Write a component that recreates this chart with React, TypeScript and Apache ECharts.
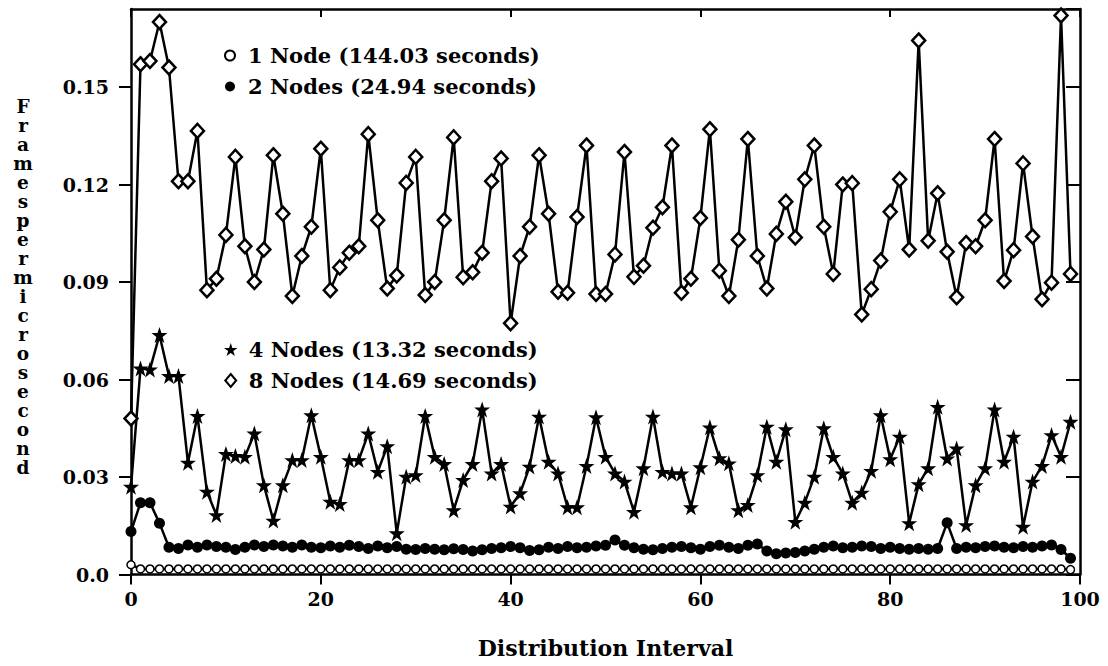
import React, { useEffect, useRef } from "react";
import * as echarts from "echarts";

const FONT = "DejaVu Serif";

const seriesNames = [
  "1 Node (144.03 seconds)",
  "2 Nodes (24.94 seconds)",
  "4 Nodes (13.32 seconds)",
  "8 Nodes (14.69 seconds)",
];

const xTicks = [0, 20, 40, 60, 80, 100];
const yTicks = [0, 0.03, 0.06, 0.09, 0.12, 0.15];
const yAxisTitle = "Framespermicrosecond";
const xAxisTitle = "Distribution Interval";

const node1 = [
  0.0030, 0.0017, 0.0017, 0.0017, 0.0017, 0.0017, 0.0017, 0.0017, 0.0017, 0.0017,
  0.0017, 0.0017, 0.0017, 0.0017, 0.0017, 0.0017, 0.0017, 0.0017, 0.0017, 0.0017,
  0.0017, 0.0017, 0.0017, 0.0017, 0.0017, 0.0017, 0.0017, 0.0017, 0.0017, 0.0017,
  0.0017, 0.0017, 0.0017, 0.0017, 0.0017, 0.0017, 0.0017, 0.0017, 0.0017, 0.0017,
  0.0017, 0.0017, 0.0017, 0.0017, 0.0017, 0.0017, 0.0017, 0.0017, 0.0017, 0.0017,
  0.0017, 0.0017, 0.0017, 0.0017, 0.0017, 0.0017, 0.0017, 0.0017, 0.0017, 0.0017,
  0.0017, 0.0017, 0.0017, 0.0017, 0.0017, 0.0017, 0.0017, 0.0017, 0.0017, 0.0017,
  0.0017, 0.0017, 0.0017, 0.0017, 0.0017, 0.0017, 0.0017, 0.0017, 0.0017, 0.0017,
  0.0017, 0.0017, 0.0017, 0.0017, 0.0017, 0.0017, 0.0017, 0.0017, 0.0017, 0.0017,
  0.0017, 0.0017, 0.0017, 0.0017, 0.0017, 0.0017, 0.0017, 0.0017, 0.0017, 0.0015,
];

const node2 = [
  0.0132, 0.0221, 0.0221, 0.0158, 0.0084, 0.0080, 0.0091, 0.0084, 0.0091, 0.0086,
  0.0084, 0.0077, 0.0084, 0.0091, 0.0086, 0.0091, 0.0088, 0.0084, 0.0091, 0.0084,
  0.0082, 0.0088, 0.0084, 0.0090, 0.0086, 0.0080, 0.0088, 0.0082, 0.0086, 0.0078,
  0.0077, 0.0080, 0.0078, 0.0076, 0.0079, 0.0077, 0.0072, 0.0076, 0.0080, 0.0082,
  0.0086, 0.0082, 0.0074, 0.0076, 0.0084, 0.0080, 0.0086, 0.0082, 0.0084, 0.0088,
  0.0090, 0.0106, 0.0090, 0.0082, 0.0078, 0.0076, 0.0080, 0.0084, 0.0086, 0.0082,
  0.0078, 0.0086, 0.0090, 0.0084, 0.0080, 0.0090, 0.0094, 0.0072, 0.0064, 0.0066,
  0.0068, 0.0072, 0.0078, 0.0084, 0.0088, 0.0082, 0.0084, 0.0088, 0.0086, 0.0080,
  0.0084, 0.0080, 0.0078, 0.0080, 0.0078, 0.0080, 0.0159, 0.0080, 0.0084, 0.0082,
  0.0086, 0.0088, 0.0084, 0.0082, 0.0086, 0.0084, 0.0088, 0.0091, 0.0077, 0.0050,
];

const node4 = [
  0.0270, 0.0634, 0.0631, 0.0737, 0.0611, 0.0611, 0.0344, 0.0488, 0.0255, 0.0183,
  0.0371, 0.0365, 0.0362, 0.0434, 0.0275, 0.0166, 0.0275, 0.0352, 0.0352, 0.0490,
  0.0362, 0.0224, 0.0217, 0.0352, 0.0352, 0.0434, 0.0316, 0.0395, 0.0127, 0.0301,
  0.0306, 0.0488, 0.0362, 0.0340, 0.0198, 0.0291, 0.0340, 0.0508, 0.0311, 0.0340,
  0.0209, 0.0250, 0.0332, 0.0486, 0.0347, 0.0311, 0.0207, 0.0207, 0.0334, 0.0484,
  0.0362, 0.0311, 0.0286, 0.0193, 0.0327, 0.0486, 0.0316, 0.0311, 0.0311, 0.0207,
  0.0330, 0.0453, 0.0358, 0.0342, 0.0198, 0.0214, 0.0306, 0.0455, 0.0347, 0.0447,
  0.0162, 0.0221, 0.0301, 0.0450, 0.0362, 0.0311, 0.0221, 0.0252, 0.0319, 0.0490,
  0.0355, 0.0424, 0.0158, 0.0278, 0.0327, 0.0516, 0.0357, 0.0388, 0.0152, 0.0275,
  0.0327, 0.0508, 0.0347, 0.0424, 0.0147, 0.0286, 0.0334, 0.0429, 0.0362, 0.0470,
];

const node8 = [
  0.0480, 0.1570, 0.1580, 0.1700, 0.1560, 0.1210, 0.1210, 0.1365, 0.0875, 0.0910,
  0.1045, 0.1285, 0.1010, 0.0900, 0.1000, 0.1290, 0.1110, 0.0857, 0.0980, 0.1070,
  0.1310, 0.0875, 0.0945, 0.0990, 0.1010, 0.1355, 0.1090, 0.0880, 0.0920, 0.1205,
  0.1285, 0.0860, 0.0900, 0.1090, 0.1345, 0.0915, 0.0930, 0.0990, 0.1210, 0.1280,
  0.0773, 0.0980, 0.1070, 0.1290, 0.1110, 0.0870, 0.0867, 0.1100, 0.1320, 0.0863,
  0.0863, 0.0985, 0.1300, 0.0916, 0.0950, 0.1067, 0.1130, 0.1320, 0.0867, 0.0910,
  0.1097, 0.1370, 0.0935, 0.0857, 0.1030, 0.1340, 0.0980, 0.0880, 0.1048, 0.1147,
  0.1037, 0.1216, 0.1320, 0.1070, 0.0925, 0.1200, 0.1204, 0.0800, 0.0878, 0.0966,
  0.1116, 0.1216, 0.1000, 0.1643, 0.1027, 0.1173, 0.0993, 0.0853, 0.1020, 0.1010,
  0.1090, 0.1340, 0.0903, 0.0998, 0.1265, 0.1040, 0.0847, 0.0898, 0.1720, 0.0925,
];

const STAR =
  "path://M50,0 L61.8,35.2 L97.6,35.2 L68.5,57 L79.4,92 L50,70.5 L20.6,92 L31.5,57 L2.4,35.2 L38.2,35.2 Z";
const DIAMOND = "path://M50,0 L92,50 L50,100 L8,50 Z";

const toPoints = (vals: number[]) => vals.map((v, i) => [i, v]);

export default function App() {
  const ref = useRef<HTMLDivElement>(null);
  useEffect(() => {
    document.body.style.margin = "0";
    const chart = echarts.init(ref.current!, null, { renderer: "svg" });
    const labelStyle = {
      fontFamily: FONT,
      fontWeight: "bold" as const,
      color: "#000",
    };
    const axisLine = { show: true, onZero: false, lineStyle: { color: "#000", width: 2.5 } };
    const lineStyle = { color: "#000", width: 2.5 };
    const legendText = { ...labelStyle, fontSize: 21 };
    const option: any = {
      animation: false,
      backgroundColor: "#fff",
      grid: { left: 131, right: 28, top: 9, bottom: 91.5 },
      xAxis: [
        {
          type: "value",
          min: xTicks[0],
          max: xTicks[xTicks.length - 1],
          interval: xTicks[1] - xTicks[0],
          position: "bottom",
          axisLine,
          axisTick: { inside: false, length: 10, lineStyle: { color: "#000", width: 2 } },
          axisLabel: { ...labelStyle, fontSize: 19, margin: 15 },
          splitLine: { show: false },
          name: xAxisTitle,
          nameLocation: "middle",
          nameGap: 62,
          nameTextStyle: { ...labelStyle, fontSize: 22 },
        },
        {
          type: "value",
          min: xTicks[0],
          max: xTicks[xTicks.length - 1],
          interval: xTicks[1] - xTicks[0],
          position: "top",
          axisLine,
          axisTick: { inside: true, length: 8, lineStyle: { color: "#000", width: 2 } },
          axisLabel: { show: false },
          splitLine: { show: false },
        },
      ],
      yAxis: [
        {
          type: "value",
          min: 0,
          max: 0.174,
          interval: yTicks[1] - yTicks[0],
          position: "left",
          axisLine,
          axisTick: { inside: false, length: 12, lineStyle: { color: "#000", width: 2 } },
          axisLabel: {
            ...labelStyle,
            fontSize: 19,
            margin: 22,
            showMaxLabel: false,
            formatter: (v: number) => {
              const t = yTicks.find((y) => Math.abs(y - v) < 1e-6);
              if (t === undefined) return "";
              return t === 0 ? "0.0" : t.toFixed(2);
            },
          },
          splitLine: { show: false },
        },
        {
          type: "value",
          min: 0,
          max: 0.174,
          interval: yTicks[1] - yTicks[0],
          position: "right",
          axisLine,
          axisTick: { inside: true, length: 14, lineStyle: { color: "#000", width: 2 } },
          axisLabel: { show: false },
          splitLine: { show: false },
        },
      ],
      legend: [
        {
          orient: "vertical",
          left: 219,
          top: 40,
          itemGap: 10,
          itemWidth: 26,
          itemHeight: 10,
          symbolKeepAspect: true,
          selectedMode: false,
          textStyle: legendText,
          data: [
            { name: seriesNames[0], icon: "circle" },
            { name: seriesNames[1], icon: "circle" },
          ],
        },
        {
          orient: "vertical",
          left: 219,
          top: 334,
          itemGap: 10,
          itemWidth: 26,
          itemHeight: 13,
          symbolKeepAspect: true,
          selectedMode: false,
          textStyle: legendText,
          data: [
            { name: seriesNames[2], icon: STAR },
            { name: seriesNames[3], icon: DIAMOND },
          ],
        },
      ],
      graphic: [
        {
          type: "text",
          x: 23,
          y: 97,
          style: {
            text: yAxisTitle.split("").join("\n"),
            align: "center",
            verticalAlign: "top",
            fontFamily: FONT,
            fontWeight: "bold",
            fontSize: 18.5,
            lineHeight: 19,
            fill: "#000",
          },
        },
      ],
      series: [
        {
          name: seriesNames[3],
          type: "line",
          data: toPoints(node8),
          symbol: "diamond",
          symbolSize: [13, 14],
          lineStyle,
          itemStyle: { color: "#fff", borderColor: "#000", borderWidth: 2.5 },
          z: 3,
        },
        {
          name: seriesNames[2],
          type: "line",
          data: toPoints(node4),
          symbol: STAR,
          symbolSize: 16,
          lineStyle,
          itemStyle: { color: "#000", borderColor: "#000", borderWidth: 0 },
          z: 3,
        },
        {
          name: seriesNames[1],
          type: "line",
          data: toPoints(node2),
          symbol: "circle",
          symbolSize: 11,
          lineStyle,
          itemStyle: { color: "#000", borderColor: "#000", borderWidth: 0 },
          z: 3,
        },
        {
          name: seriesNames[0],
          type: "line",
          data: toPoints(node1),
          symbol: "circle",
          symbolSize: 8,
          lineStyle,
          itemStyle: { color: "#fff", borderColor: "#000", borderWidth: 1.5 },
          z: 4,
        },
      ],
    };
    chart.setOption(option);
    return () => chart.dispose();
  }, []);
  return <div ref={ref} style={{ width: 1108, height: 666 }} />;
}
